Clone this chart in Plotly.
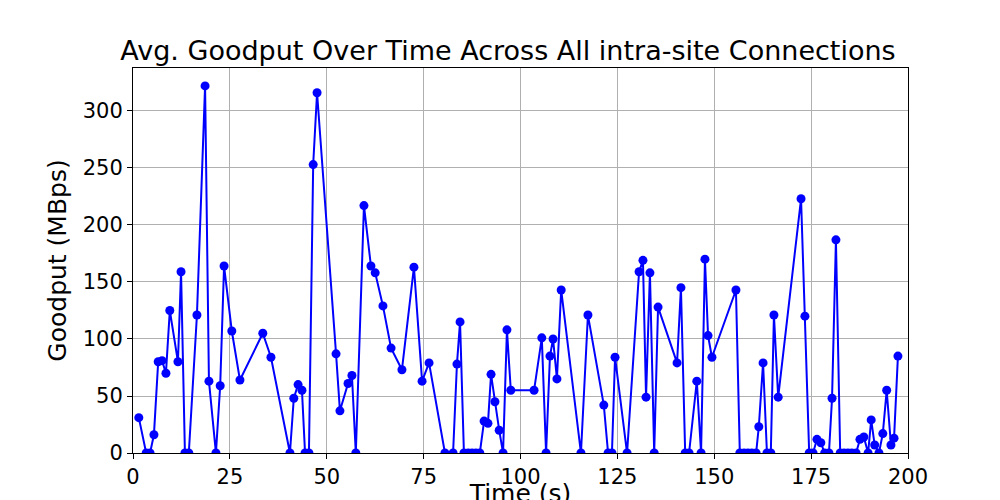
import plotly.graph_objects as go

time_s = [1.5,3.4,4.4,5.4,6.5,7.5,8.5,9.5,11.6,12.4,13.4,14.4,16.5,18.6,19.6,21.4,22.5,23.5,25.5,27.6,
 33.5,35.6,40.5,41.5,42.6,43.6,44.4,45.4,46.5,47.5,52.4,53.4,55.5,56.5,57.5,59.6,61.4,62.5,64.5,66.6,
 69.4,72.5,74.6,76.4,80.5,82.6,83.6,84.4,85.4,86.5,87.5,88.5,89.5,90.6,91.6,92.4,93.4,94.5,95.5,96.5,
 97.5,103.5,105.5,106.6,107.6,108.4,109.4,110.5,115.6,117.4,121.5,122.6,123.6,124.4,127.5,130.6,131.6,
 132.4,133.4,134.5,135.5,140.4,141.4,142.5,143.5,145.5,146.6,147.6,148.4,149.4,155.6,156.6,157.7,158.7,
 159.7,160.8,161.5,162.6,163.6,164.6,165.4,166.5,172.4,173.4,174.5,175.5,176.5,177.5,178.5,179.6,180.4,
 181.4,182.5,183.5,184.5,185.5,186.6,187.6,188.6,189.7,190.5,191.4,192.5,193.5,194.5,195.6,196.4,197.4]
goodput = [31,0,0,16,80,81,70,125,80,159,0,0,121,322,63,0,59,164,107,64,
 105,84,0,48,60,55,0,0,253,316,87,37,61,68,0,217,164,158,129,92,
 73,163,63,79,0,0,78,115,0,0,0,0,0,28,26,69,45,20,0,108,
 55,55,101,0,85,100,65,143,0,121,42,0,0,84,0,159,169,
 49,158,0,128,79,145,0,0,63,0,170,103,84,143,0,0,0,
 0,0,23,79,0,0,121,49,223,120,0,0,12,9,0,0,48,
 187,0,0,0,0,0,12,14,0,29,7,0,17,55,7,13,85]

x_ticks = [0,25,50,75,100,125,150,175,200]
y_ticks = [0,50,100,150,200,250,300]

fig = go.Figure(go.Scatter(x=time_s, y=goodput, mode="lines+markers",
    line=dict(color="blue", width=2), marker=dict(color="blue", size=9)))

axis_common = dict(showline=True, linecolor="black", linewidth=1, mirror=True,
    ticks="outside", ticklen=5, tickcolor="black", showgrid=True, gridcolor="#b0b0b0",
    gridwidth=1, zeroline=False, automargin=False, tickfont=dict(size=21, color="black"))

fig.update_layout(
    width=1000, height=500, plot_bgcolor="white", paper_bgcolor="white",
    font=dict(family="DejaVu Sans", color="black"),
    margin=dict(l=125, r=100, t=60, b=55, autoexpand=False),
    title=dict(text="Avg. Goodput Over Time Across All intra-site Connections",
               x=0.5, xanchor="center", y=0.915, yanchor="middle", font=dict(size=27)),
    xaxis=dict(range=[0,200], tickvals=x_ticks,
               title=dict(text="Time (s)", font=dict(size=25), standoff=6), **axis_common),
    yaxis=dict(range=[0,337.7], tickvals=y_ticks,
               title=dict(text="Goodput (MBps)", font=dict(size=25), standoff=8), **axis_common),
    showlegend=False,
)
fig.write_html("out.html")
